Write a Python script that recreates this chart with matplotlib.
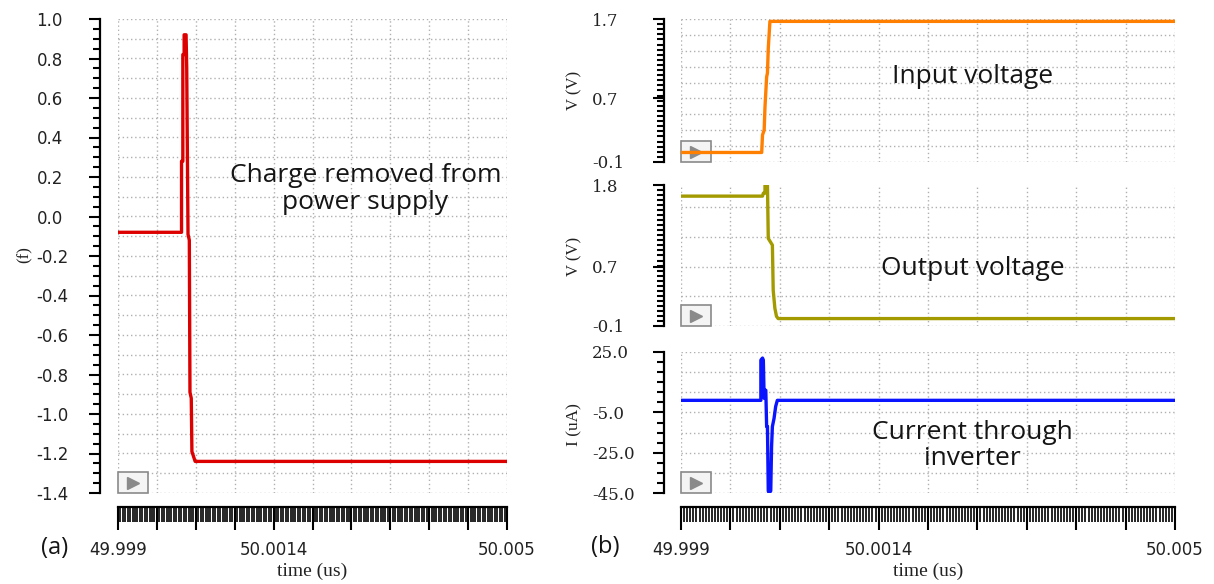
import numpy as np
import matplotlib
matplotlib.use('Agg')
import matplotlib.pyplot as plt
from matplotlib.ticker import FixedLocator
from matplotlib.patches import Rectangle

# time axis (us)
t_start, t_end = 49.999, 50.005
t_major = np.linspace(t_start, t_end, 11)
t_minor = np.linspace(t_start, t_end, 161)
t_labels = ['49.999', '', '', '', '50.0014', '', '', '', '', '', '50.005']

# (a) charge removed from the supply
t_q = [49.999, 49.99998, 49.99998, 50.00000, 50.00000, 50.00002, 50.00002, 50.00005,
       50.00006, 50.00008, 50.00010, 50.00011, 50.00013, 50.00014, 50.00016, 50.00019, 50.005]
q = [-0.08, -0.08, 0.28, 0.28, 0.82, 0.82, 0.92, 0.92,
     0.75, -0.09, -0.12, -0.89, -0.92, -1.19, -1.21, -1.24, -1.24]
q_ticks = [-1.4, -1.2, -1.0, -0.8, -0.6, -0.4, -0.2, 0.0, 0.2, 0.4, 0.6, 0.8, 1.0]
q_labels = ['-1.4', '-1.2', '-1.0', '-0.8', '-0.6', '-0.4', '-0.2', '0.0',
            '0.2', '0.4', '0.6', '0.8', '1.0']

# (b) inverter input / output / current
t_in = [49.999, 49.99998, 49.99999, 50.00001, 50.00002, 50.00004, 50.00005, 50.00006, 50.00008, 50.005]
v_in = [0.02, 0.02, 0.24, 0.30, 0.59, 0.97, 1.02, 1.33, 1.67, 1.67]

t_out = [49.999, 49.99999, 50.00000, 50.00002, 50.00002, 50.00005, 50.00006, 50.00011,
         50.00012, 50.00014, 50.00016, 50.00018, 50.005]
v_out = [1.65, 1.65, 1.69, 1.69, 1.80, 1.80, 1.08, 0.99, 0.38, 0.14, 0.03, 0.0, 0.0]

t_i = [49.999, 49.99997, 49.99997, 49.99999, 50.00000, 50.00001, 50.00002, 50.00003,
       50.00004, 50.00005, 50.00006, 50.00007, 50.00009, 50.00010, 50.00011, 50.00013,
       50.00015, 50.00017, 50.005]
i_inv = [1.0, 1.0, 21.0, 22.0, 21.0, 2.0, 6.0, 6.0,
         -12.0, -12.0, -44.0, -45.0, -44.0, -22.0, -12.0, -8.0,
         -2.0, 1.0, 1.0]

FIG_W, FIG_H = 1214, 584
grid_color = '#b0b0b0'
tick_font = 'DejaVu Sans'
label_font = 'Liberation Serif'
note_font = 'Open Sans'
text_color = '#151515'

fig = plt.figure(figsize=(FIG_W / 100, FIG_H / 100), dpi=100)


def add_axes_px(x0, y0, x1, y1):
    return fig.add_axes([x0 / FIG_W, 1 - y1 / FIG_H, (x1 - x0) / FIG_W, (y1 - y0) / FIG_H])


def play_box(ax):
    pos = ax.get_position()
    w = 30 / (pos.width * FIG_W)
    h = 21 / (pos.height * FIG_H)
    ax.add_patch(Rectangle((0, 0), w, h, transform=ax.transAxes, facecolor='#f4f4f4',
                           edgecolor='#8a8a8a', lw=1.2, zorder=2, clip_on=False))
    ax.plot([w / 2], [h / 2], marker='>', ms=9, color='#8a8a8a', transform=ax.transAxes,
            zorder=2, clip_on=False)


def style_axes(ax, ylim, y_major, y_labels, y_minor, y_grid, spine_out, label_pad,
               label_size, label_family, show_x):
    ax.set_xlim(t_start, t_end)
    ax.set_ylim(*ylim)
    for side in ('top', 'right'):
        ax.spines[side].set_visible(False)
    ax.spines['left'].set_position(('outward', spine_out))
    ax.spines['left'].set_linewidth(1.6)
    ax.set_yticks(y_major)
    ax.set_yticklabels(y_labels)
    ax.yaxis.set_minor_locator(FixedLocator(y_minor))
    ax.tick_params(axis='y', which='major', length=8.2, width=1.5, pad=label_pad,
                   labelsize=label_size, labelcolor='#222222')
    ax.tick_params(axis='y', which='minor', length=5.2, width=1.5)
    for tk in ax.yaxis.get_major_ticks():
        tk.label1.set_horizontalalignment('left')
        tk.label1.set_family(label_family)

    for y in y_grid:
        ax.axhline(y, color=grid_color, lw=1.0, ls=(0, (1, 2)), zorder=0)
    for t in t_major:
        ax.axvline(t, color=grid_color, lw=1.0, ls=(0, (1, 2)), zorder=0)

    if show_x:
        ax.spines['bottom'].set_position(('outward', 10))
        ax.spines['bottom'].set_linewidth(1.6)
        ax.set_xticks(t_major)
        ax.set_xticklabels(t_labels)
        ax.xaxis.set_minor_locator(FixedLocator(t_minor))
        ax.tick_params(axis='x', which='major', length=16.5, width=1.5, pad=8,
                       labelsize=12, labelcolor='#222222')
        ax.tick_params(axis='x', which='minor', length=10.8, width=1.2)
        for tk in ax.xaxis.get_major_ticks():
            tk.label1.set_family(tick_font)
        ax.set_xlabel('time (us)', family=label_font, fontsize=14, labelpad=3,
                      color='#222222')
    else:
        ax.spines['bottom'].set_visible(False)
        ax.tick_params(axis='x', which='both', bottom=False, labelbottom=False)
    play_box(ax)


# ---- (a) ----
ax_a = add_axes_px(118, 19, 507, 493)
style_axes(ax_a, (-1.4, 1.0), q_ticks, q_labels,
           np.arange(-1.4, 1.001, 0.05),
           np.arange(-1.4, 1.001, 0.1),
           13, 37.5, 12, tick_font, True)
ax_a.plot(t_q, q, color='#dd0000', lw=2.4, zorder=3)
ax_a.text(0.636, 0.642, 'Charge removed from\npower supply', transform=ax_a.transAxes,
          ha='center', va='center', family=note_font, fontsize=19, color=text_color,
          linespacing=1.1)
fig.text(25 / FIG_W, 1 - 255 / FIG_H, '(f)', rotation=90, ha='center', va='center',
         family=label_font, fontsize=12, color='#222222')
fig.text(55 / FIG_W, 1 - 548 / FIG_H, '(a)', ha='center', va='center',
         family=note_font, fontsize=17, color=text_color)

# ---- (b) ----
ax_in = add_axes_px(681, 19, 1175, 162)
style_axes(ax_in, (-0.1, 1.7), [1.7, 0.7, -0.1], ['1.7', '0.7', '-0.1'],
           np.linspace(-0.1, 1.7, 29), np.arange(-0.1, 1.71, 0.2),
           12.2, 43.5, 12, 'DejaVu Serif', False)
ax_in.plot(t_in, v_in, color='#ff7f00', lw=2.4, zorder=3)
ax_in.text(0.59, 0.6, 'Input voltage', transform=ax_in.transAxes, ha='center',
           va='center', family=note_font, fontsize=19, color=text_color)

ax_out = add_axes_px(681, 185, 1175, 326)
style_axes(ax_out, (-0.1, 1.8), [1.8, 0.7, -0.1], ['1.8', '0.7', '-0.1'],
           np.linspace(-0.1, 1.8, 29), np.arange(-0.1, 1.71, 0.4),
           12.2, 43.5, 12, 'DejaVu Serif', False)
ax_out.plot(t_out, v_out, color='#a39a00', lw=2.4, zorder=3)
ax_out.text(0.59, 0.41, 'Output voltage', transform=ax_out.transAxes, ha='center',
            va='center', family=note_font, fontsize=19, color=text_color)

ax_i = add_axes_px(681, 352, 1175, 493)
style_axes(ax_i, (-45, 25), [25, -5, -25, -45], ['25.0', '-5.0', '-25.0', '-45.0'],
           np.arange(-45, 25.1, 5), np.arange(-45, 25.1, 10),
           12.2, 43.5, 12, 'DejaVu Serif', True)
ax_i.plot(t_i, i_inv, color='#0a14ff', lw=2.4, zorder=3)
ax_i.text(0.59, 0.34, 'Current through\ninverter', transform=ax_i.transAxes, ha='center',
          va='center', family=note_font, fontsize=19, color=text_color, linespacing=1.05)

fig.text(574 / FIG_W, 1 - 90 / FIG_H, 'V (V)', rotation=90, ha='center', va='center',
         family=label_font, fontsize=12, color='#222222')
fig.text(574 / FIG_W, 1 - 256 / FIG_H, 'V (V)', rotation=90, ha='center', va='center',
         family=label_font, fontsize=12, color='#222222')
fig.text(574 / FIG_W, 1 - 425 / FIG_H, 'I (uA)', rotation=90, ha='center', va='center',
         family=label_font, fontsize=12.5, color='#222222')
fig.text(605 / FIG_W, 1 - 547 / FIG_H, '(b)', ha='center', va='center',
         family=note_font, fontsize=17, color=text_color)

fig.savefig('out.png', dpi=100)
